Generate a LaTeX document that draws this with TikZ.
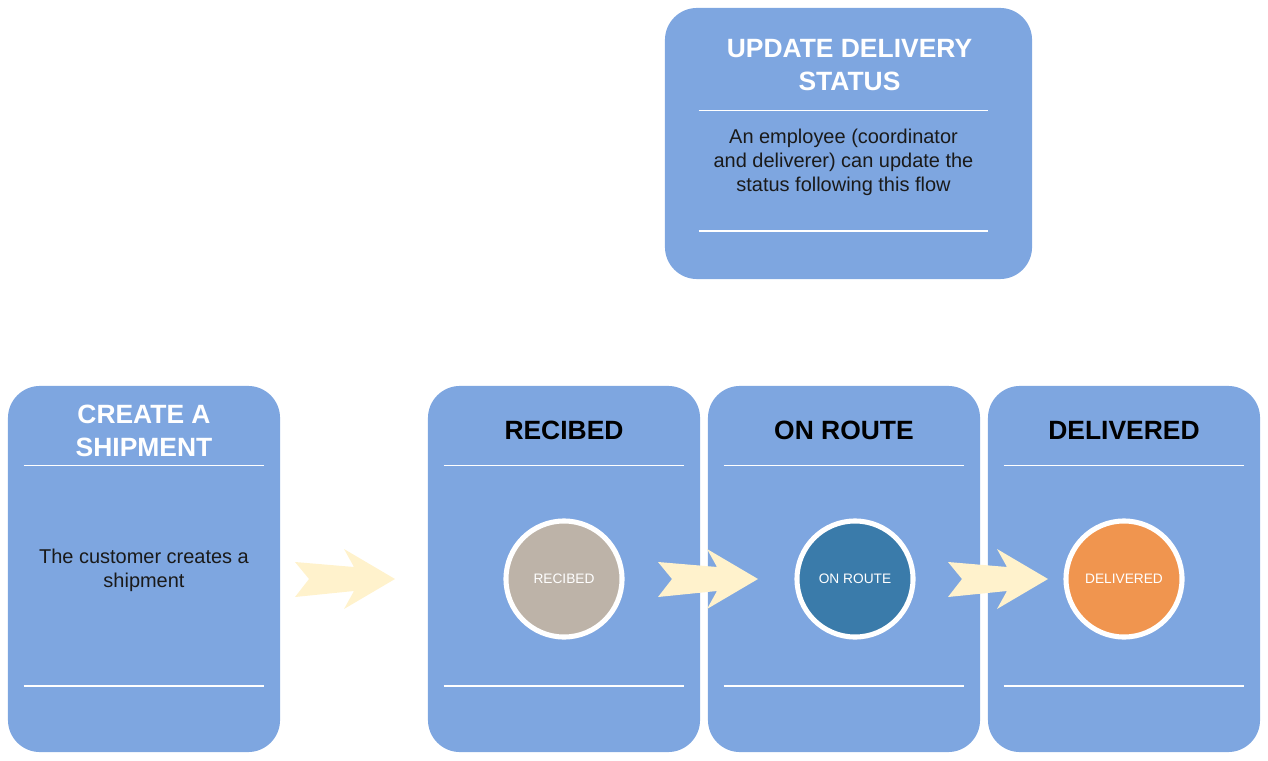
\documentclass[tikz,border=0pt]{standalone}
\usepackage{fontspec}
\setmainfont{Liberation Sans}
\usepackage{tikz}
\usetikzlibrary{positioning}
\definecolor{CardBlue}{HTML}{7EA6E0}
\definecolor{ChevronFill}{HTML}{FFF2CC}
\definecolor{BodyGray}{HTML}{1A1A1A}
\definecolor{StageGray}{HTML}{BDB3A8}
\definecolor{StageBlue}{HTML}{3A7BAA}
\definecolor{StageOrange}{HTML}{F0954F}

\begin{document}
\begin{tikzpicture}[x=0.025cm,y=-0.025cm,
card/.style n args={2}{rectangle,fill=CardBlue,rounded corners=0.8cm,minimum width=#1,minimum height=#2,inner sep=0pt},
ttl/.style={font=\bfseries\fontsize{18.8}{23.5}\selectfont,align=center},
txt/.style={font=\fontsize{14.2}{17.1}\selectfont,text=BodyGray,align=center},
stage/.style={circle,draw=white,line width=3.6pt,minimum size=2.9cm,text=white,font=\fontsize{9.75}{11}\selectfont},
rule/.style={white,line width=1.1pt},
chev/.pic={\fill[ChevronFill] (-50,-17) -- (9,-12) -- (-1,-30) -- (50,0) -- (-1,30) -- (9,12) -- (-50,18) -- (-36,0) -- cycle;}]
\useasboundingbox (0,0) rectangle (1268,761);
% top card
\node[card={9.175cm}{6.775cm}] (upd) at (848.5,143.5) {};
\node[ttl,text=white] (updttl) at (849.5,65) {UPDATE DELIVERY\\STATUS};
\node[txt] (updtxt) at (843.5,162) {An employee (coordinator\\and deliverer) can update the\\status following this flow};
\draw[rule] ([xshift=0.85cm,yshift=-2.575cm]upd.north west) -- ([xshift=-1.1cm,yshift=-2.575cm]upd.north east);
\draw[rule] ([xshift=0.85cm,yshift=-5.575cm]upd.north west) -- ([xshift=-1.1cm,yshift=-5.575cm]upd.north east);
% create card
\node[card={6.8cm}{9.15cm}] (crt) at (144,569) {};
\node[ttl,text=white] (crtttl) at (144,431) {CREATE A\\SHIPMENT};
\node[txt] (crttxt) at (144,570) {The customer creates a\\shipment};
\draw[rule] ([xshift=0.4cm,yshift=-2cm]crt.north west) -- ([xshift=-0.4cm,yshift=-2cm]crt.north east);
\draw[rule] ([xshift=0.4cm,yshift=-7.5cm]crt.north west) -- ([xshift=-0.4cm,yshift=-7.5cm]crt.north east);
% stages
\foreach \x/\n/\t/\c/\d in %
{564/rec/RECIBED/StageGray/0,844/onr/ON ROUTE/StageBlue/11,1124/dlv/DELIVERED/StageOrange/0} {
   \node[card={6.8cm}{9.15cm}] (\n) at (\x,569) {};
   \node[ttl,text=black] (\n ttl) at (\x,430) {\t};
   \draw[rule] ([xshift=0.4cm,yshift=-2cm]\n.north west) -- ([xshift=-0.4cm,yshift=-2cm]\n.north east);
   \draw[rule] ([xshift=0.4cm,yshift=-7.5cm]\n.north west) -- ([xshift=-0.4cm,yshift=-7.5cm]\n.north east);
   \node[stage,fill=\c] (\n dot) at (\x+\d,579) {\t};
}
\foreach \x in {345,708,998} {
   \pic at (\x,579) {chev};
}
\end{tikzpicture}
\end{document}
